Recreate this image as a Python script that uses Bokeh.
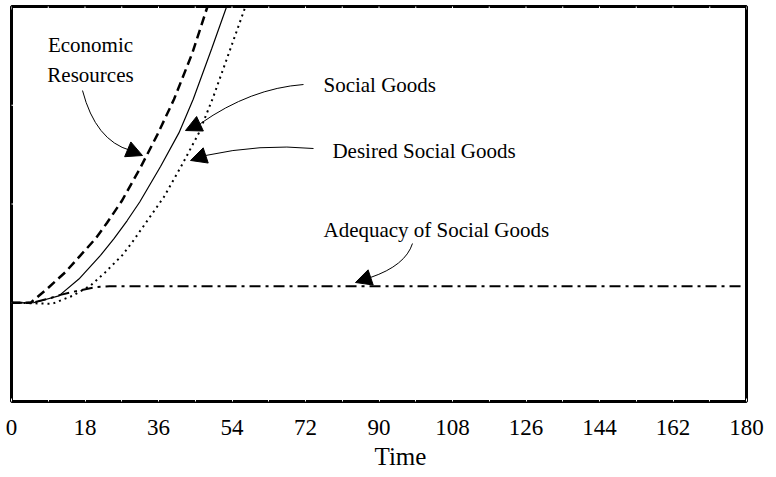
import math
from bokeh.plotting import figure
from bokeh.models import Range1d, LinearAxis, FixedTicker, Label, Arrow, NormalHead, Title
from bokeh.embed import file_html
from bokeh.resources import INLINE

# ---------------- data ----------------
x_tick_labels = [0, 18, 36, 54, 72, 90, 108, 126, 144, 162, 180]
x_minor = [9, 27, 45, 63, 81, 99, 117, 135, 153, 171]
y_notches = [1, 2, 3]

econ_t = [0, 4.7, 8.7, 13.2, 16.9, 20.6, 23.4, 27.0, 31.6, 35.7, 39.8, 44.3, 48.0]
econ_v = [1.0, 1.0, 1.14, 1.31, 1.48, 1.65, 1.81, 2.03, 2.37, 2.70, 3.06, 3.53, 4.0]

social_t = [0, 5.4, 11.6, 16.5, 21.8, 25.1, 28.3, 31.4, 36.5, 41.0, 44.5, 49.0, 52.7]
social_v = [1.0, 1.0, 1.07, 1.24, 1.48, 1.65, 1.83, 2.02, 2.38, 2.72, 3.06, 3.57, 4.0]

desired_t = [0, 4.7, 10.0, 14.9, 19.4, 23.0, 27.1, 29.6, 32.4, 37.3, 41.8, 45.9, 49.2, 53.6, 57.3]
desired_v = [1.0, 0.995, 0.99, 1.07, 1.175, 1.31, 1.48, 1.615, 1.78, 2.07, 2.40, 2.72, 3.06, 3.57, 4.0]

adequacy_t = [0, 5, 9, 12, 15, 18.4, 21, 24, 180]
adequacy_v = [1.0, 1.0, 1.04, 1.08, 1.11, 1.14, 1.16, 1.168, 1.168]

x_title = "Time"
label_econ = ["Economic", "Resources"]
label_social = "Social Goods"
label_desired = "Desired Social Goods"
label_adequacy = "Adequacy of Social Goods"

FONT = "Liberation Serif"

# ---------------- figure ----------------
p = figure(width=771, height=477, x_range=Range1d(0, 180), y_range=Range1d(0, 4),
           output_backend="svg", toolbar_location=None,
           x_axis_location=None, y_axis_location=None,
           min_border_left=11, min_border_right=25, min_border_top=6, min_border_bottom=76)
p.grid.visible = False
p.background_fill_color = "white"
p.border_fill_color = "white"
p.outline_line_color = "black"
p.outline_line_width = 3
p.outline_line_alpha = 1.0

xax = LinearAxis(ticker=FixedTicker(ticks=x_tick_labels, minor_ticks=x_minor),
                 axis_line_color=None,
                 major_tick_in=3, major_tick_out=0, minor_tick_in=3, minor_tick_out=0,
                 major_tick_line_color="white", minor_tick_line_color="white",
                 major_label_standoff=18,
                 major_label_text_font=FONT, major_label_text_font_size="23px",
                 major_label_text_color="black")
p.add_layout(xax, "below")

p.add_layout(Title(text=x_title, align="left", offset=363, standoff=7,
                   text_font=FONT, text_font_size="25px", text_font_style="normal",
                   text_color="black"), "below")

# small light notches along the top and left edges of the frame
p.scatter(x=x_tick_labels + x_minor, y=[4] * (len(x_tick_labels) + len(x_minor)),
          marker="dash", angle=math.pi / 2, size=6, line_color="white", line_width=1)
p.scatter(x=[0] * len(y_notches), y=y_notches, marker="dash", size=6,
          line_color="white", line_width=1)

# ---------------- series ----------------
p.line(econ_t, econ_v, line_color="black", line_width=2.5, line_dash="9 5")
p.line(social_t, social_v, line_color="black", line_width=1.2)
p.line(desired_t, desired_v, line_color="black", line_width=2, line_dash="2 4")
p.line(adequacy_t, adequacy_v, line_color="black", line_width=2, line_dash="11 5 3 5")

# ---------------- annotations ----------------
def text(x, y, s, align="left"):
    p.add_layout(Label(x=x, y=y, text=s, text_font=FONT, text_font_size="21px",
                       text_align=align, text_baseline="alphabetic", text_color="black"))


text(19.35, 3.615, label_econ[0], "center")
text(19.35, 3.311, label_econ[1], "center")
text(76.4, 3.210, label_social)
text(78.6, 2.532, label_desired)
text(76.4, 1.732, label_adequacy)

# curved leaders: (start, control, end-of-curve, arrow tip)
leaders = [
    ((17.39, 3.149), (20.57, 2.643), (29.14, 2.542), (32.08, 2.491)),
    ((71.51, 3.210), (58.53, 3.170), (46.29, 2.815), (42.61, 2.744)),
    ((73.96, 2.562), (60.98, 2.613), (47.51, 2.491), (43.84, 2.441)),
    ((98.20, 1.600), (96.49, 1.377), (87.92, 1.256), (84.24, 1.205)),
]
p.quadratic(x0=[l[0][0] for l in leaders], y0=[l[0][1] for l in leaders],
            x1=[l[2][0] for l in leaders], y1=[l[2][1] for l in leaders],
            cx=[l[1][0] for l in leaders], cy=[l[1][1] for l in leaders],
            line_color="black", line_width=1)
for s, c, e, t in leaders:
    p.add_layout(Arrow(end=NormalHead(size=16, fill_color="black", line_color="black", line_width=1),
                       x_start=e[0], y_start=e[1], x_end=t[0], y_end=t[1],
                       line_color="black", line_width=1))

open("out.html", "w").write(file_html(p, INLINE))
